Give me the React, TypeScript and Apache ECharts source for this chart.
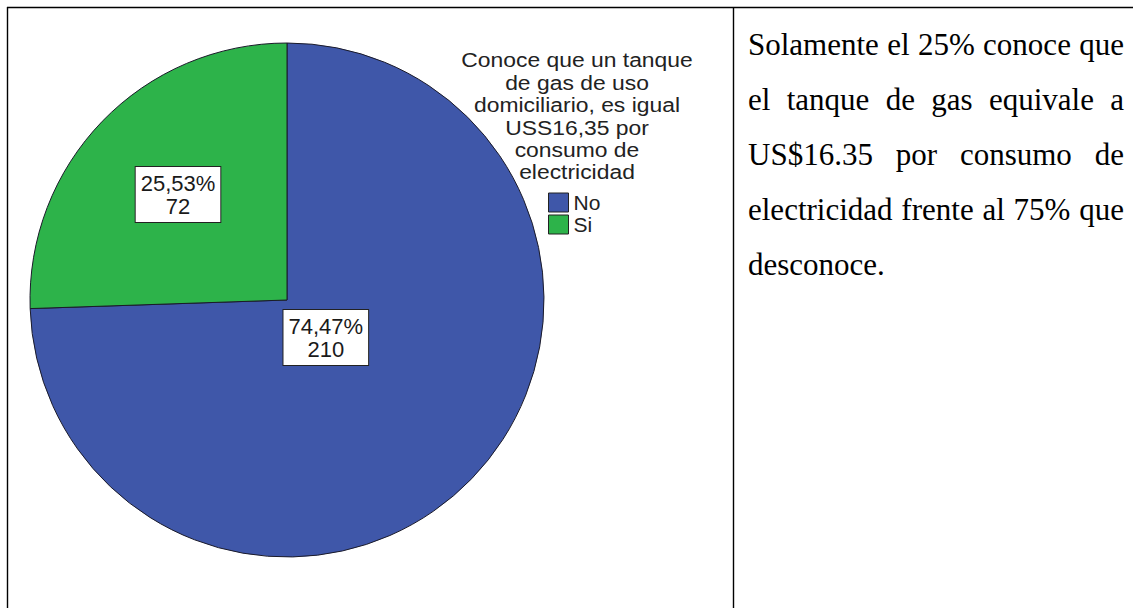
import React, { useEffect, useRef } from 'react';
import * as echarts from 'echarts';

const categories = ['No', 'Si'];
const counts = [210, 72];
const sliceColors = ['#3f57a9', '#2db34a'];
const legendTitleLines = [
  'Conoce que un tanque',
  'de gas de uso',
  'domiciliario, es igual',
  'USS16,35 por',
  'consumo de',
  'electricidad',
];
const paragraphLines = [
  'Solamente el 25% conoce que',
  'el tanque de gas equivale a',
  'US$16.35 por consumo de',
  'electricidad frente al 75% que',
  'desconoce.',
];

export default function App() {
  const ref = useRef<HTMLDivElement>(null);

  useEffect(() => {
    if (!ref.current) return;
    const chart = echarts.init(ref.current, null, { renderer: 'svg' });
    const total = counts.reduce((a, b) => a + b, 0);
    const cx = 287;
    const cy = 300;
    const R = 257;
    const labelRadiusFrac = [0.21, 0.59];
    const fmtPct = (v: number) => (v / total * 100).toFixed(2).replace('.', ',') + '%';

    const option: any = {
      animation: false,
      backgroundColor: '#ffffff',
      legend: {
        orient: 'vertical',
        left: 543,
        top: 187,
        padding: 5,
        itemWidth: 20,
        itemHeight: 19,
        itemGap: 1,
        icon: 'rect',
        selectedMode: false,
        data: categories,
        itemStyle: { borderColor: '#222', borderWidth: 1 },
        textStyle: {
          fontFamily: '"Liberation Sans", Arial, sans-serif',
          fontSize: 21,
          lineHeight: 19,
          height: 19,
          color: '#222',
        },
      },
      graphic: [
        { type: 'line', shape: { x1: 7, y1: 7.5, x2: 1133, y2: 7.5 }, style: { stroke: '#000', lineWidth: 1.4 } },
        { type: 'line', shape: { x1: 7.5, y1: 7, x2: 7.5, y2: 608 }, style: { stroke: '#000', lineWidth: 1.4 } },
        { type: 'line', shape: { x1: 733.5, y1: 7, x2: 733.5, y2: 608 }, style: { stroke: '#000', lineWidth: 1.4 } },
        {
          type: 'text',
          x: 577,
          y: 49,
          scaleX: 1.09,
          style: {
            text: legendTitleLines.join('\n'),
            align: 'center',
            verticalAlign: 'top',
            fontFamily: '"Liberation Sans", Arial, sans-serif',
            fontSize: 21,
            lineHeight: 22.4,
            fill: '#222',
          },
        },
      ],
      series: [
        {
          type: 'pie',
          center: [cx, cy],
          radius: R,
          startAngle: 90,
          clockwise: true,
          silent: true,
          emphasis: { disabled: true },
          itemStyle: { borderColor: '#1b1b2a', borderWidth: 1 },
          labelLine: { show: false },
          label: {
            show: true,
            position: 'inside',
            formatter: (p: any) => fmtPct(p.value) + '\n' + p.value,
            fontFamily: '"Liberation Sans", Arial, sans-serif',
            fontSize: 22,
            lineHeight: 23,
            color: '#1a1a1a',
            align: 'center',
            backgroundColor: '#ffffff',
            borderColor: '#222',
            borderWidth: 1,
            padding: [5, 5, 4, 5],
          },
          labelLayout: (params: any) => {
            const i = params.dataIndex;
            let cum = 0;
            for (let k = 0; k < i; k++) cum += counts[k];
            const midDeg = 90 - ((cum + counts[i] / 2) / total) * 360;
            const a = (midDeg * Math.PI) / 180;
            const r = labelRadiusFrac[i] * R;
            return {
              x: cx + r * Math.cos(a),
              y: cy - r * Math.sin(a),
              align: 'center',
              verticalAlign: 'middle',
            };
          },
          data: categories.map((c, i) => ({
            name: c,
            value: counts[i],
            itemStyle: { color: sliceColors[i] },
          })),
        },
      ],
    };
    chart.setOption(option);
    return () => chart.dispose();
  }, []);

  const last = paragraphLines.length - 1;
  return (
    <div style={{ position: 'fixed', left: 0, top: 0, width: 1133, height: 608, background: '#fff', overflow: 'hidden' }}>
      <div ref={ref} style={{ position: 'absolute', left: 0, top: 0, width: 1133, height: 608 }} />
      <div
        style={{
          position: 'absolute',
          left: 748,
          top: 17,
          width: 376,
          fontFamily: '"Liberation Serif", "Times New Roman", serif',
          fontSize: 31,
          lineHeight: '55px',
          color: '#000',
        }}
      >
        {paragraphLines.map((l, i) => (
          <div
            key={i}
            style={{
              textAlign: i < last ? 'justify' : 'left',
              textAlignLast: i < last ? 'justify' : 'left',
            } as any}
          >
            {l}
          </div>
        ))}
      </div>
    </div>
  );
}
